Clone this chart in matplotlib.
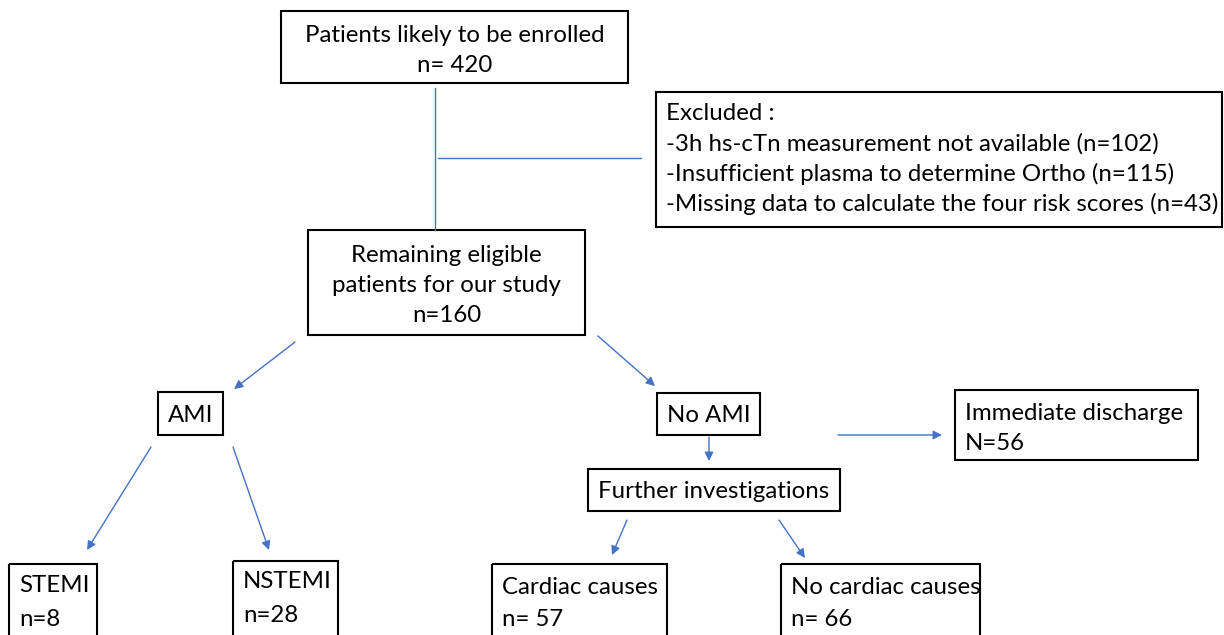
import matplotlib
matplotlib.use("Agg")
import matplotlib.pyplot as plt
from matplotlib.patches import Rectangle

plt.rcParams["font.family"] = ["Lato", "DejaVu Sans"]

# flowchart content
enrolled = ["Patients likely to be enrolled", "n= 420"]
excluded = ["Excluded :",
            "-3h hs-cTn measurement not available (n=102)",
            "-Insufficient plasma to determine Ortho (n=115)",
            "-Missing data to calculate the four risk scores (n=43)"]
remaining = ["Remaining eligible", "patients for our study", "n=160"]
ami = ["AMI"]
no_ami = ["No AMI"]
discharge = ["Immediate discharge", "N=56"]
further = ["Further investigations"]
stemi = ["STEMI", "n=8"]
nstemi = ["NSTEMI", "n=28"]
cardiac = ["Cardiac causes", "n= 57"]
no_cardiac = ["No cardiac causes", "n= 66"]

BLUE = "#4472C4"
FS = 17.3

fig = plt.figure(figsize=(12.24, 6.35), dpi=100)
ax = fig.add_axes([0, 0, 1, 1])
ax.set_xlim(0, 1224)
ax.set_ylim(635, 0)
ax.axis("off")


def box(x0, y0, x1, y1, lines, ys, align="center"):
    ax.add_patch(Rectangle((x0, y0), x1 - x0, y1 - y0, fill=False,
                           edgecolor="black", linewidth=1.5))
    tx = (x0 + x1) / 2 if align == "center" else x0 + 10
    for s, y in zip(lines, ys):
        # small nudge: va=center sits a touch high for Lato
        ax.text(tx, y + 2, s, ha=align, va="center", fontsize=FS,
                color="black")


def arrow(x0, y0, x1, y1):
    ax.annotate("", xy=(x1, y1), xytext=(x0, y0),
                arrowprops=dict(arrowstyle="-|>", color=BLUE, lw=1.0,
                                mutation_scale=13, shrinkA=0, shrinkB=0))


box(281, 11, 628, 83, enrolled, [33, 63])
box(656, 92, 1222, 227, excluded, [112, 142, 172, 202], align="left")
box(308, 230, 585, 335, remaining, [254, 284, 314])
box(158, 392, 223, 435, ami, [413])
box(657, 393, 760, 435, no_ami, [413])
box(955, 390, 1198, 460, discharge, [411, 442], align="left")
box(588, 469, 840, 511, further, [490])
box(9, 564, 97, 660, stemi, [584, 617], align="left")
box(233, 561, 338, 660, nstemi, [580, 613], align="left")
box(492, 564, 667, 660, cardiac, [585, 617], align="left")
box(781, 564, 980, 660, no_cardiac, [585, 617], align="left")

# connectors
ax.plot([435, 435], [88, 230], color=BLUE, lw=1.0)
ax.plot([438, 641], [158, 158], color=BLUE, lw=1.0)

arrow(295, 342, 234, 389)
arrow(598, 336, 655, 386)
arrow(838, 435, 942, 435)
arrow(709, 437, 709, 461)
arrow(151, 447, 87, 550)
arrow(233, 447, 269, 550)
arrow(627, 520, 612, 555)
arrow(779, 520, 805, 558)

fig.savefig("out.png", dpi=100)
